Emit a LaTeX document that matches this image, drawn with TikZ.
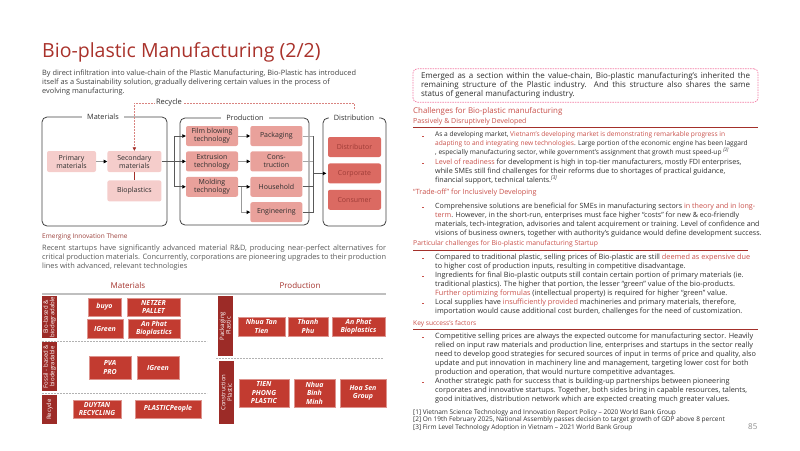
\documentclass[tikz,border=0pt]{standalone}
\usepackage{fontspec}
\setmainfont{Open Sans}
\usetikzlibrary{arrows.meta,positioning,calc}
\definecolor{titlered}{HTML}{A9322B}
\definecolor{hlred}{HTML}{C8504A}
\definecolor{deepred}{HTML}{A3302A}
\definecolor{palepink}{HTML}{F5CDCB}
\definecolor{midpink}{HTML}{E9A19B}
\definecolor{distred}{HTML}{DB6A62}
\definecolor{boxred}{HTML}{C23B30}
\definecolor{barred}{HTML}{9C2B27}
\definecolor{bodygray}{HTML}{2E2E2E}
\definecolor{dashpink}{HTML}{F27BA3}
\newcommand{\hl}[1]{\textcolor{hlred}{#1}}

\begin{document}
\begin{tikzpicture}[x=1pt,y=-1pt,
  mat/.style={fill=palepink, rounded corners=2pt, minimum width=54pt, minimum height=21pt, align=center, font=\fontsize{7}{8}\selectfont, text=bodygray, inner sep=1pt},
  prod/.style={fill=midpink, rounded corners=2pt, minimum width=52pt, minimum height=20pt, align=center, font=\fontsize{7}{8}\selectfont, text=bodygray, inner sep=1pt},
  dist/.style={fill=distred, rounded corners=2pt, minimum width=53pt, minimum height=20pt, font=\fontsize{7}{8}\selectfont, text=deepred!85!gray},
  frame/.style={draw=black!75, line width=0.8pt, rounded corners=5pt},
  framelbl/.style={fill=white, font=\fontsize{7.3}{8.5}\selectfont, text=bodygray, inner xsep=5pt, inner ysep=2pt},
  link/.style={draw=black!65, line width=0.7pt},
  flow/.style={link, -{Triangle[length=3.5pt,width=3.5pt,color=black]}},
  recyc/.style={draw=hlred!70, dash pattern=on 2pt off 1pt, line width=0.5pt, -{Triangle[length=3.5pt,width=3.5pt,color=deepred]}},
  co/.style={fill=boxred, draw=boxred!55!white, line width=0.4pt, text=white, font=\fontsize{7}{8.5}\selectfont\bfseries\itshape, align=center, inner sep=1pt},
  bar/.style={fill=barred, text=white, rotate=90, font=\fontsize{6}{6.5}\selectfont, align=center, inner sep=0.5pt, minimum height=15pt},
  sep/.style={draw=black!30, dash pattern=on 2pt off 1pt, line width=0.9pt},
  txt/.style={anchor=north west, inner sep=0, align=left, text=bodygray, font=\fontsize{7.3}{9}\selectfont},
  head/.style={anchor=base west, inner sep=0, text=hlred, font=\fontsize{6.8}{8}\selectfont},
  bul/.style={fill=hlred, minimum size=1.8pt, inner sep=0}]
\useasboundingbox (0,0) rectangle (800,450);

\node[anchor=base west, inner sep=0, text=titlered, font=\fontsize{19.5}{23}\selectfont] (title) at (42,57) {Bio-plastic Manufacturing (2/2)};
\node[txt, text=black!75, font=\fontsize{7.35}{9}\selectfont] (intro) at (42,69.7) {By direct infiltration into value-chain of the Plastic Manufacturing, Bio-Plastic has introduced\\itself as a Sustainability solution, gradually delivering certain values in the process of\\evolving manufacturing.};

\node[frame, minimum width=125pt, minimum height=109pt] (matbox) at (104.5,171.5) {};
\node[frame, minimum width=129pt, minimum height=107pt] (prodbox) at (244.5,171.5) {};
\node[frame, minimum width=63pt, minimum height=108pt] (distbox) at (354.5,172) {};
\node[framelbl] (matlbl) at (103,117) {Materials};
\node[framelbl] (prodlbl) at (245,118) {Production};
\node[framelbl] (distlbl) at (354,118) {Distribution};

\node[mat, minimum width=49pt] (prim) at (71.5,161.5) {Primary\\materials};
\node[mat, right=11pt of prim] (sec) {Secondary\\materials};
\node[mat, below=8pt of sec] (bio) {Bioplastics};

\node[prod] (film) at (212,136) {Film blowing\\technology};
\node[prod, below=5pt of film] (extr) {Extrusion\\technology};
\node[prod, below=5pt of extr] (mold) {Molding\\technology};
\node[prod, right=12pt of film] (pack) {Packaging};
\node[prod, right=12pt of extr] (cons) {Cons-\\truction};
\node[prod, right=12pt of mold] (house) {Household};
\node[prod, below=5pt of house] (eng) {Engineering};

\node[dist] (distr) at (354.5,147) {Distributor};
\node[dist, below=6pt of distr] (corp) {Corporate};
\node[dist, below=6pt of corp] (cust) {Consumer};

\draw[flow, draw=black!40] (prim) -- (sec);
\draw[draw=deepred, line width=0.7pt] (sec) -- (bio);
\coordinate (split) at ($(sec.east)+(13,0)$);
\draw[link, line width=1.3pt] (sec.east) -- (split);
\draw[link] (split |- film.west) -- (split |- mold.west);
\draw[flow] (split |- film.west) -- (film.west);
\draw[flow] (split) -- (extr.west);
\draw[flow] (split |- mold.west) -- (mold.west);
\draw[flow, draw=black!40] (film) -- (pack);
\draw[flow, draw=black!40] (extr) -- (cons);
\draw[flow] (mold) -- (house);
\coordinate (mbr) at ($(mold.east)+(3,0)$);
\draw[flow, draw=black!40] (mbr) |- (eng.west);
\coordinate (merge) at ($(pack.east)+(11,0)$);
\draw[link, draw=black!35] (pack.east) -- (merge |- pack.east);
\draw[link, draw=black!35] (cons.east) -- (merge |- cons.east);
\draw[link] (house.east) -- (merge |- house.east);
\draw[link] (eng.east) -- (merge |- eng.east);
\draw[link] (merge |- pack.east) -- (merge |- eng.east);
\draw[flow, shorten >=1.5pt] (merge |- corp) -- (corp.west);

\coordinate (rline) at (0,103);
\draw[recyc] ($(distlbl.north)+(0,-4)$) -- ($(distlbl.north |- rline)$) -- (sec.north |- rline) -- (sec.north);
\node[fill=white, inner sep=1.5pt, text=bodygray, font=\fontsize{7.5}{8.5}\selectfont] (recylbl) at (169,103) {Recycle};

\node[head, text=deepred!80!gray, font=\fontsize{6.5}{8}\selectfont] (emerg) at (42,238.6) {Emerging Innovation Theme};
\node[txt, text width=344pt, align=justify, text=black!65, font=\fontsize{7.4}{9}\selectfont] (recent) at (42,244.7) {Recent startups have significantly advanced material R\&D, producing near-perfect alternatives for\linebreak critical production materials. Concurrently, corporations are pioneering upgrades to their production\linebreak lines with advanced, relevant technologies};

\node[anchor=base, inner sep=0, text=deepred, font=\fontsize{8}{9}\selectfont] (matttl) at (128,288) {Materials};
\node[anchor=base, inner sep=0, text=deepred, font=\fontsize{8}{9}\selectfont] (prodttl) at (300,288) {Production};
\draw[draw=black!25, line width=1.2pt] (42,294) -- (386,294);

\node[bar, minimum width=42pt] (biobar) at (49.5,317) {Bio-based \&\\biodegradable};
\node[bar, minimum width=49pt] (fossbar) at (49.5,366.5) {Fossil - based \&\\biodegradable};
\node[bar, minimum width=29pt] (recbar) at (49.5,409.5) {Recycle};
\node[bar, minimum width=60pt] (packbar) at (225,326) {Packaging\\Plastic};
\node[bar, minimum width=63pt] (consbar) at (226.5,392.5) {Construction\\Plastic};
\draw[sep] (42,341) -- (207,341);
\draw[sep] (42,393) -- (207,393);
\draw[sep] (216,358) -- (383,358);

\node[co, minimum width=33pt, minimum height=18pt] (buyo) at (104.5,307) {buyo};
\node[co, minimum width=53pt, minimum height=18pt] (netzer) at (153.5,307) {NETZER\\PALLET};
\node[co, minimum width=36pt, minimum height=19pt] (igreenA) at (105,328.5) {IGreen};
\node[co, minimum width=52pt, minimum height=19pt] (anphatA) at (154,328.5) {An Phat\\Bioplastics};
\node[co, minimum width=42pt, minimum height=23pt] (pva) at (110,367.5) {PVA\\PRO};
\node[co, minimum width=42pt, minimum height=23pt] (igreenB) at (158,367.5) {IGreen};
\node[co, minimum width=48pt, minimum height=18pt] (duytan) at (97,409) {DUYTAN\\RECYCLING};
\node[co, minimum width=66pt, minimum height=18pt] (plpeople) at (168,409) {PLASTICPeople};
\node[co, minimum width=47pt, minimum height=19pt] (tantien) at (261.5,326.5) {Nhua Tan\\Tien};
\node[co, minimum width=40pt, minimum height=19pt] (thanhphu) at (308,326.5) {Thanh\\Phu};
\node[co, minimum width=53pt, minimum height=19pt] (anphatB) at (358.5,326.5) {An Phat\\Bioplastics};
\node[co, minimum width=50pt, minimum height=28pt] (tienphong) at (264,393) {TIEN\\PHONG\\PLASTIC};
\node[co, minimum width=41pt, minimum height=28pt] (binhminh) at (314.5,393) {Nhua\\Binh\\Minh};
\node[co, minimum width=46pt, minimum height=28pt] (hoasen) at (363,393) {Hoa Sen\\Group};

\node[draw=dashpink, dash pattern=on 1.5pt off 1pt, line width=0.7pt, rounded corners=4pt, minimum width=345pt, minimum height=31pt, text width=329pt, inner xsep=8pt, align=justify, text=bodygray, font=\fontsize{8}{9.3}\selectfont] (keybox) at (585.5,85.5) {Emerged as a section within the value-chain, Bio-plastic manufacturing's inherited the\linebreak remaining structure of the Plastic industry. And this structure also shares the same\linebreak status of general manufacturing industry.};

\node[head, font=\fontsize{7.9}{9}\selectfont] (chall) at (413,113) {Challenges for Bio-plastic manufacturing};
\node[head, font=\fontsize{7}{8}\selectfont] (passive) at (413,123.6) {Passively \& Disruptively Developed};
\draw[draw=deepred, line width=0.8pt] (413,127) -- (758,127);
\node[head, font=\fontsize{7.2}{8}\selectfont] (trade) at (413,194.6) {“Trade-off” for Inclusively Developing};
\node[head, font=\fontsize{6.8}{8}\selectfont] (partic) at (413,245.8) {Particular challenges for Bio-plastic manufacturing Startup};
\draw[draw=deepred, line width=0.8pt] (413,250) -- (748,250);
\node[head, font=\fontsize{6.6}{8}\selectfont] (keyfac) at (413,325.6) {Key success's factors};
\draw[draw=deepred, line width=0.8pt] (413,329) -- (758,329);

\foreach \y [count=\i] in {136.5,163.5,207.5,258.5,276.5,303.5,337.5,382.5}
  \node[bul] (bul\i) at (423,\y) {};

\node[txt, font=\fontsize{6.6}{9}\selectfont] (t1) at (435,131.7) {As a developing market, \hl{Vietnam's developing market is demonstrating remarkable progress in}\\\hl{adapting to and integrating new technologies}. Large portion of the economic engine has been laggard\\, especially manufacturing sector, while government's assignment that growth must speed-up \textsuperscript{\textit{[2]}}};
\node[txt, font=\fontsize{7.15}{9}\selectfont] (t2) at (435,158.7) {\hl{Level of readiness} for development is high in top-tier manufacturers, mostly FDI enterprises,\\while SMEs still find challenges for their reforms due to shortages of practical guidance,\\financial support, technical talents.\textsuperscript{\textit{[3]}}};
\node[txt, font=\fontsize{7.15}{9}\selectfont] (t3) at (435,202.7) {Comprehensive solutions are beneficial for SMEs in manufacturing sectors \hl{in theory and in long-}\\\hl{term}. However, in the short-run, enterprises must face higher “costs” for new \& eco-friendly\\materials, tech-integration, advisories and talent acquirement or training. Level of confidence and\\visions of business owners, together with authority's guidance would define development success.};
\node[txt] (t4) at (435,253.7) {Compared to traditional plastic, selling prices of Bio-plastic are still \hl{deemed as expensive due}\\to higher cost of production inputs, resulting in competitive disadvantage.};
\node[txt] (t5) at (435,271.7) {Ingredients for final Bio-plastic outputs still contain certain portion of primary materials (ie.\\traditional plastics). The higher that portion, the lesser “green” value of the bio-products.\\\hl{Further optimizing formulas} (intellectual property) is required for higher “green” value.};
\node[txt] (t6) at (435,298.7) {Local supplies have \hl{insufficiently provided} machineries and primary materials, therefore,\\importation would cause additional cost burden, challenges for the need of customization.};
\node[txt] (t7) at (435,332.7) {Competitive selling prices are always the expected outcome for manufacturing sector. Heavily\\relied on input raw materials and production line, enterprises and startups in the sector really\\need to develop good strategies for secured sources of input in terms of price and quality, also\\update and put innovation in machinery line and management, targeting lower cost for both\\production and operation, that would nurture competitive advantages.};
\node[txt] (t8) at (435,377.7) {Another strategic path for success that is building-up partnerships between pioneering\\corporates and innovative startups. Together, both sides bring in capable resources, talents,\\good initiatives, distribution network which are expected creating much greater values.};

\node[txt, font=\fontsize{6.5}{7.5}\selectfont] (notes) at (413,409) {[1] Vietnam Science Technology and Innovation Report Policy – 2020 World Bank Group\\[0pt][2] On 19th February 2025, National Assembly passes decision to target growth of GDP above 8 percent\\[0pt][3] Firm Level Technology Adoption in Vietnam – 2021 World Bank Group};
\node[anchor=base west, inner sep=0, text=black!45, font=\fontsize{8}{9}\selectfont] (pageno) at (748,429) {85};
\end{tikzpicture}
\end{document}
